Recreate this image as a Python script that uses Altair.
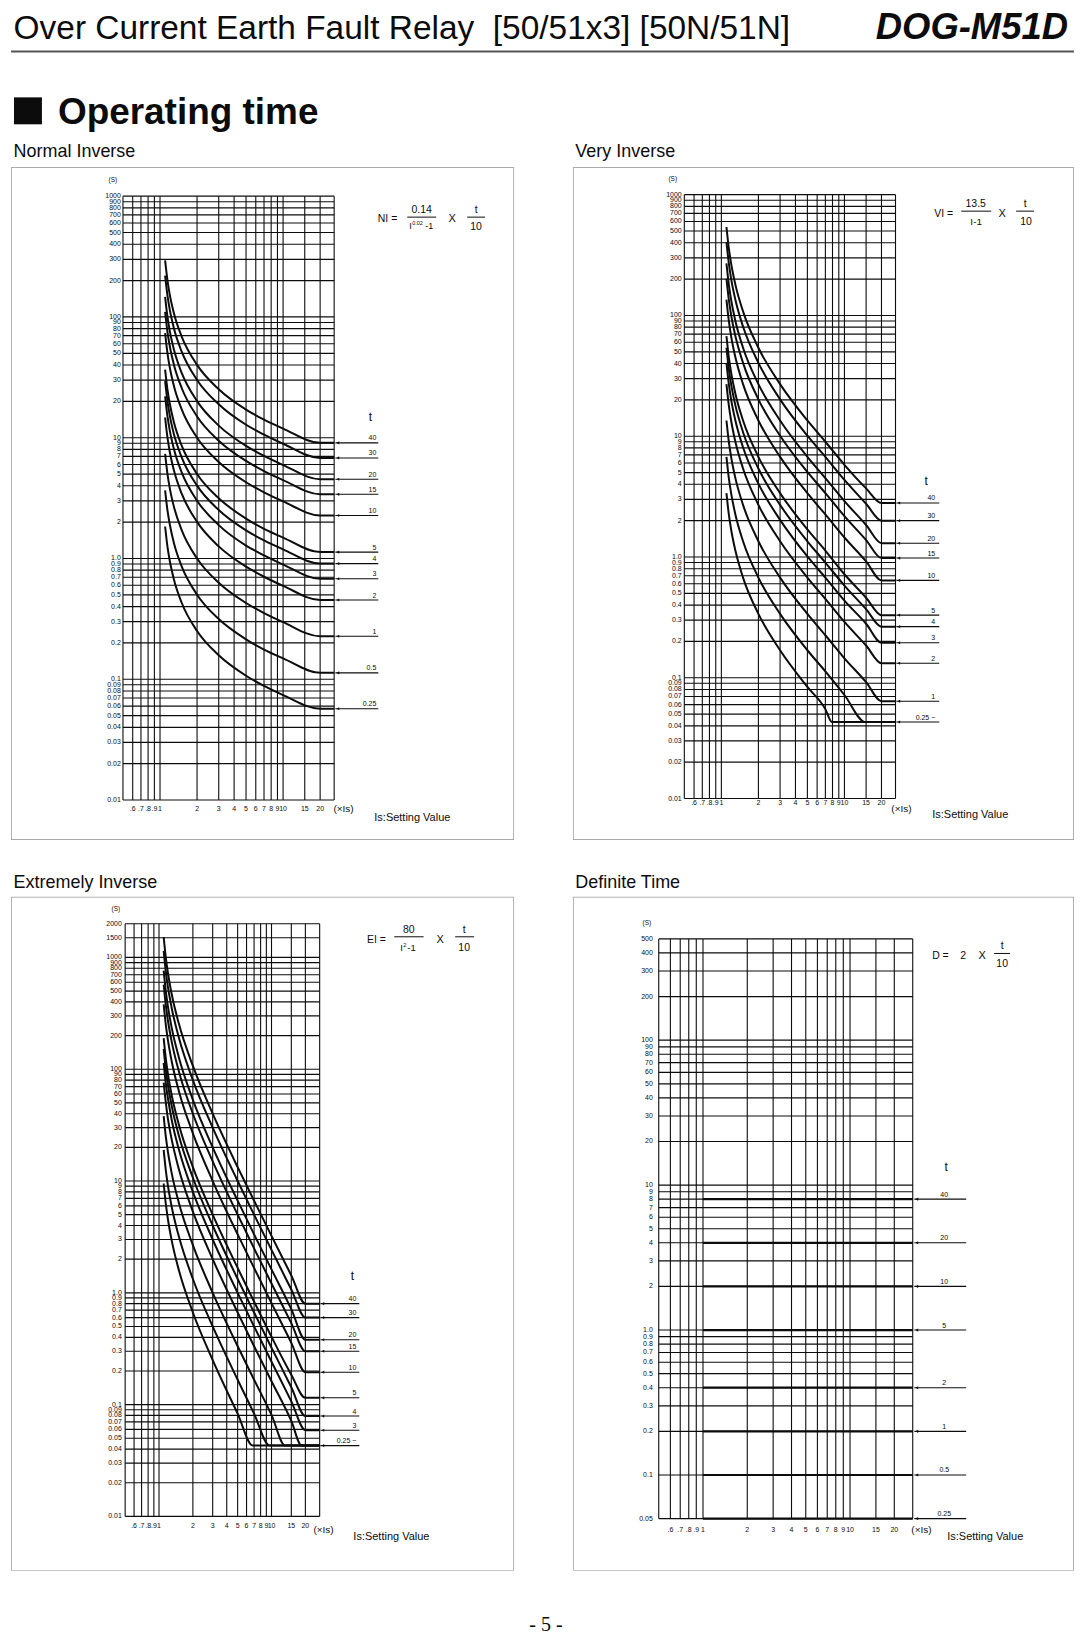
import altair as alt
import pandas as pd

FONT = "Liberation Sans"
SERIF = "Liberation Serif"
INK = "#0c0c0c"

# ---------------- shared axis values ----------------
X_GRID = [0.5, 0.6, 0.7, 0.8, 0.9, 1, 2, 3, 4, 5, 6, 7, 8, 9, 10, 15, 20]
X_TICKS = [0.6, 0.7, 0.8, 0.9, 1, 2, 3, 4, 5, 6, 7, 8, 9, 10, 15, 20]
X_LABELS = [".6", ".7", ".8", ".9", "1", "2", "3", "4", "5", "6", "7", "8", "9", "10", "15", "20"]

Y_VALS = [1000, 900, 800, 700, 600, 500, 400, 300, 200, 100, 90, 80, 70, 60, 50, 40, 30, 20,
          10, 9, 8, 7, 6, 5, 4, 3, 2, 1, 0.9, 0.8, 0.7, 0.6, 0.5, 0.4, 0.3, 0.2,
          0.1, 0.09, 0.08, 0.07, 0.06, 0.05, 0.04, 0.03, 0.02, 0.01]
Y_LABS = ["1000", "900", "800", "700", "600", "500", "400", "300", "200", "100", "90", "80", "70",
          "60", "50", "40", "30", "20", "10", "9", "8", "7", "6", "5", "4", "3", "2", "1.0", "0.9",
          "0.8", "0.7", "0.6", "0.5", "0.4", "0.3", "0.2", "0.1", "0.09", "0.08", "0.07", "0.06",
          "0.05", "0.04", "0.03", "0.02", "0.01"]
EI_Y_VALS = [2000, 1500, 1000, 900, 800, 700, 600, 500, 400, 300, 200, 100, 90, 80, 70, 60, 50, 40,
             30, 20, 10, 9, 8, 7, 6, 5, 4, 3, 2, 1, 0.9, 0.8, 0.7, 0.6, 0.5, 0.4, 0.3, 0.2,
             0.1, 0.09, 0.08, 0.07, 0.06, 0.05, 0.04, 0.03, 0.02, 0.01]
EI_Y_LABS = ["2000", "1500", "1000", "900", "800", "700", "600", "500", "400", "300", "200", "100",
             "90", "80", "70", "60", "50", "40", "30", "20", "10", "9", "8", "7", "6", "5", "4", "3",
             "2", "1.0", "0.9", "0.8", "0.7", "0.6", "0.5", "0.4", "0.3", "0.2", "0.1", "0.09",
             "0.08", "0.07", "0.06", "0.05", "0.04", "0.03", "0.02", "0.01"]
DT_Y_VALS = [500, 400, 300, 200, 100, 90, 80, 70, 60, 50, 40, 30, 20, 10, 9, 8, 7, 6, 5, 4, 3, 2,
             1, 0.9, 0.8, 0.7, 0.6, 0.5, 0.4, 0.3, 0.2, 0.1, 0.05]
DT_Y_LABS = ["500", "400", "300", "200", "100", "90", "80", "70", "60", "50", "40", "30", "20",
             "10", "9", "8", "7", "6", "5", "4", "3", "2", "1.0", "0.9", "0.8", "0.7", "0.6", "0.5",
             "0.4", "0.3", "0.2", "0.1", "0.05"]

# ---------------- Normal Inverse curves ----------------
NI_X = [1.1, 1.15, 1.2, 1.3, 1.5, 2, 3, 5, 7, 10, 20, 26]
NI_Y = {
    "40": [293.6, 200.0, 153.2, 106.4, 68.8, 40.1, 25.2, 17.1, 14.1, 11.9, 9.07, 9.07],
    "30": [220.2, 150.0, 114.9, 79.8, 51.6, 30.1, 18.9, 12.8, 10.6, 8.91, 6.80, 6.80],
    "20": [146.8, 100.0, 76.6, 53.2, 34.4, 20.1, 12.6, 8.56, 7.06, 5.94, 4.53, 4.53],
    "15": [110.1, 75.0, 57.5, 39.9, 25.8, 15.0, 9.45, 6.42, 5.29, 4.46, 3.40, 3.40],
    "10": [73.4, 50.0, 38.3, 26.6, 17.2, 10.0, 6.30, 4.28, 3.53, 2.97, 2.27, 2.27],
    "5": [36.7, 25.0, 19.2, 13.3, 8.60, 5.01, 3.15, 2.14, 1.76, 1.49, 1.13, 1.13],
    "4": [29.4, 20.0, 15.3, 10.6, 6.88, 4.01, 2.52, 1.71, 1.41, 1.19, 0.907, 0.907],
    "3": [22.0, 15.0, 11.5, 7.98, 5.16, 3.01, 1.89, 1.28, 1.06, 0.891, 0.680, 0.680],
    "2": [14.7, 10.0, 7.66, 5.32, 3.44, 2.01, 1.26, 0.856, 0.706, 0.594, 0.453, 0.453],
    "1": [7.34, 5.00, 3.83, 2.66, 1.72, 1.00, 0.630, 0.428, 0.353, 0.297, 0.227, 0.227],
    "0.5": [3.67, 2.50, 1.92, 1.33, 0.860, 0.501, 0.315, 0.214, 0.176, 0.149, 0.113, 0.113],
    "0.25": [1.84, 1.25, 0.958, 0.665, 0.430, 0.251, 0.158, 0.107, 0.088, 0.074, 0.057, 0.057],
}
NI_ARROW_T = ["40", "30", "20", "15", "10", "5", "4", "3", "2", "1", "0.5", "0.25"]
NI_ARROW_V = [9.07, 6.80, 4.53, 3.40, 2.27, 1.13, 0.907, 0.680, 0.453, 0.227, 0.113, 0.057]

# ---------------- Very Inverse curves ----------------
VI_XS = [1.1, 1.15, 1.2, 1.3, 1.5, 2, 3, 5, 7, 10, 15, 20, 26]
VI_X = {
    "40": VI_XS, "30": VI_XS, "20": VI_XS, "15": VI_XS, "10": VI_XS, "5": VI_XS,
    "4": VI_XS, "3": VI_XS, "2": VI_XS, "1": VI_XS,
    "0.5": [1.1, 1.15, 1.2, 1.3, 1.5, 2, 3, 5, 7, 10, 14.8, 26],
    "0.25": [1.1, 1.15, 1.2, 1.3, 1.5, 2, 3, 5, 7, 7.9, 26],
}
VI_Y = {
    "40": [540, 360, 270, 180, 108, 54, 27, 13.5, 9.0, 5.8, 3.7, 2.8, 2.8],
    "30": [405, 270, 202, 135, 81, 40.5, 20.2, 10.1, 6.75, 4.35, 2.76, 2.0, 2.0],
    "20": [270, 180, 135, 90, 54, 27, 13.5, 6.75, 4.5, 2.9, 1.84, 1.3, 1.3],
    "15": [202, 135, 101, 67.5, 40.5, 20.2, 10.1, 5.06, 3.38, 2.18, 1.38, 0.98, 0.98],
    "10": [135, 90, 67.5, 45, 27, 13.5, 6.75, 3.38, 2.25, 1.45, 0.92, 0.64, 0.64],
    "5": [67.5, 45, 33.8, 22.5, 13.5, 6.75, 3.38, 1.69, 1.13, 0.72, 0.46, 0.33, 0.33],
    "4": [54, 36, 27, 18, 10.8, 5.4, 2.7, 1.35, 0.9, 0.58, 0.37, 0.265, 0.265],
    "3": [40.5, 27, 20.2, 13.5, 8.1, 4.05, 2.03, 1.01, 0.675, 0.435, 0.28, 0.195, 0.195],
    "2": [27, 18, 13.5, 9.0, 5.4, 2.7, 1.35, 0.675, 0.45, 0.29, 0.185, 0.132, 0.132],
    "1": [13.5, 9.0, 6.75, 4.5, 2.7, 1.35, 0.675, 0.338, 0.225, 0.145, 0.092, 0.064, 0.064],
    "0.5": [6.75, 4.5, 3.38, 2.25, 1.35, 0.675, 0.338, 0.169, 0.113, 0.072, 0.043, 0.043],
    "0.25": [3.38, 2.25, 1.69, 1.13, 0.675, 0.338, 0.169, 0.084, 0.055, 0.043, 0.043],
}
VI_ARROW_T = ["40", "30", "20", "15", "10", "5", "4", "3", "2", "1", "0.25 ~"]
VI_ARROW_V = [2.8, 2.0, 1.3, 0.98, 0.64, 0.33, 0.265, 0.195, 0.132, 0.064, 0.043]

# ---------------- Extremely Inverse curves ----------------
EI_XS = [1.1, 1.15, 1.2, 1.3, 1.5, 2, 3, 5, 7, 10, 15, 20, 26.8]
EI_X = {
    "40": EI_XS, "30": EI_XS, "20": EI_XS, "15": EI_XS, "10": EI_XS, "5": EI_XS,
    "4": EI_XS, "3": EI_XS,
    "2": [1.1, 1.15, 1.2, 1.3, 1.5, 2, 3, 5, 7, 10, 15, 18.5, 26.8],
    "1": [1.1, 1.15, 1.2, 1.3, 1.5, 2, 3, 5, 7, 10, 13.2, 26.8],
    "0.5": [1.1, 1.15, 1.2, 1.3, 1.5, 2, 3, 5, 7, 9.6, 26.8],
    "0.25": [1.1, 1.15, 1.2, 1.3, 1.5, 2, 3, 5, 6.8, 26.8],
}
EI_Y = {
    "40": [1524, 992, 727, 464, 256, 107, 40, 13.3, 6.67, 3.23, 1.43, 0.80, 0.80],
    "30": [1143, 744, 545, 348, 192, 80, 30, 10.0, 5.0, 2.42, 1.07, 0.60, 0.60],
    "20": [762, 496, 364, 232, 128, 53.3, 20, 6.67, 3.33, 1.62, 0.714, 0.38, 0.38],
    "15": [571, 372, 273, 174, 96, 40, 15, 5.0, 2.5, 1.21, 0.536, 0.30, 0.30],
    "10": [381, 248, 182, 116, 64, 26.7, 10, 3.33, 1.67, 0.808, 0.357, 0.195, 0.195],
    "5": [190, 124, 91, 58, 32, 13.3, 5.0, 1.67, 0.833, 0.404, 0.185, 0.115, 0.115],
    "4": [152, 99, 73, 46.4, 25.6, 10.7, 4.0, 1.33, 0.667, 0.323, 0.143, 0.079, 0.079],
    "3": [114, 74, 55, 34.8, 19.2, 8.0, 3.0, 1.0, 0.50, 0.242, 0.107, 0.059, 0.059],
    "2": [76, 50, 36, 23.2, 12.8, 5.33, 2.0, 0.667, 0.333, 0.162, 0.0714, 0.043, 0.043],
    "1": [38, 24.8, 18.2, 11.6, 6.4, 2.67, 1.0, 0.333, 0.167, 0.081, 0.043, 0.043],
    "0.5": [19, 12.4, 9.1, 5.8, 3.2, 1.33, 0.5, 0.167, 0.083, 0.043, 0.043],
    "0.25": [9.5, 6.2, 4.55, 2.9, 1.6, 0.667, 0.25, 0.083, 0.043, 0.043],
}
EI_ARROW_T = ["40", "30", "20", "15", "10", "5", "4", "3", "0.25 ~"]
EI_ARROW_V = [0.80, 0.60, 0.38, 0.30, 0.195, 0.115, 0.079, 0.059, 0.043]

# ---------------- Definite Time lines ----------------
DT_T = ["40", "20", "10", "5", "2", "1", "0.5", "0.25"]
DT_V = [8, 4, 2, 1, 0.4, 0.2, 0.1, 0.05]
DT_X = [1, 26.7]

ONE = pd.DataFrame({"k": [0]})


def curves_frame(xmap, ymap):
    rows = []
    for t, ys in ymap.items():
        xs = xmap[t] if isinstance(xmap, dict) else xmap
        for i, (x, y) in enumerate(zip(xs, ys)):
            rows.append({"t": t, "x": x, "y": y, "i": i})
    return pd.DataFrame(rows)


def txt(s, x, y, size, align="center", baseline="middle", weight="normal", style="normal",
        font=FONT, color=INK, clip=False):
    return alt.Chart(ONE).mark_text(
        text=s, fontSize=size, align=align, baseline=baseline, fontWeight=weight,
        fontStyle=style, font=font, color=color, clip=clip
    ).encode(x=alt.value(x), y=alt.value(y))


def prule(x1, y1, x2, y2, w=1.0, color=INK):
    return alt.Chart(ONE).mark_rule(strokeWidth=w, color=color).encode(
        x=alt.value(x1), x2=alt.value(x2), y=alt.value(y1), y2=alt.value(y2))


def panel(cfg):
    W, H = cfg["W"], cfg["H"]
    px1, xdec, py1, ydec = cfg["cal"]
    xdom = [10 ** (-px1 / xdec), 10 ** ((W - px1) / xdec)]
    ydom = [10 ** ((py1 - H) / ydec), 10 ** (py1 / ydec)]
    xs = alt.Scale(type="log", domain=xdom, nice=False)
    ys = alt.Scale(type="log", domain=ydom, nice=False)

    def X(f):
        return alt.X(f"{f}:Q", scale=xs, axis=None)

    def Y(f):
        return alt.Y(f"{f}:Q", scale=ys, axis=None)

    L = []
    L.append(alt.Chart(ONE).mark_rect(filled=False, stroke="#8f8f95", strokeWidth=1.4,
                                      clip=True).encode(
        x=alt.value(0), x2=alt.value(W), y=alt.value(0), y2=alt.value(H)))
    hg = pd.DataFrame({"v": cfg["ygrid"], "a": X_GRID[0], "b": cfg["xr"]})
    L.append(alt.Chart(hg).mark_rule(color=INK, strokeWidth=1.15).encode(
        x=X("a"), x2="b", y=Y("v")))
    vg = pd.DataFrame({"v": X_GRID + [cfg["xr"]], "a": cfg["ybot"], "b": cfg["ytop"]})
    L.append(alt.Chart(vg).mark_rule(color=INK, strokeWidth=1.1).encode(
        x=X("v"), y=Y("a"), y2="b"))
    L.append(alt.Chart(cfg["curves"]).mark_line(
        color=INK, strokeWidth=cfg.get("cw", 2.0), interpolate=cfg.get("interp", "monotone")
    ).encode(x=X("x"), y=Y("y"), detail="t:N", order="i:Q"))

    a0, a1, lx, lalign = cfg["arrow"]
    ar = pd.DataFrame({"v": cfg["arrow_v"], "label": cfg["arrow_l"]})
    L.append(alt.Chart(ar).mark_rule(color=INK, strokeWidth=1.1).encode(
        x=alt.value(a0), x2=alt.value(a1), y=Y("v")))
    L.append(alt.Chart(ar).mark_point(shape="triangle-left", filled=True, size=10, color=INK,
                                      opacity=1).encode(x=alt.value(a0 + 2.5), y=Y("v")))
    L.append(alt.Chart(ar).mark_text(fontSize=7, font=FONT, color=INK, align=lalign,
                                     baseline="alphabetic", dy=-2.5).encode(
        x=alt.value(lx), y=Y("v"), text="label:N"))

    yt = pd.DataFrame({"v": cfg["ygrid"], "label": cfg["ylabs"]})
    L.append(alt.Chart(yt).mark_text(fontSize=7, font=FONT, color=INK, align="right",
                                     baseline="middle").encode(
        x=alt.value(cfg["ylx"]), y=Y("v"), text="label:N"))
    xt = pd.DataFrame({"v": X_TICKS, "label": X_LABELS})
    L.append(alt.Chart(xt).mark_text(fontSize=7, font=FONT, color=INK, align="center",
                                     baseline="middle").encode(
        x=X("v"), y=alt.value(cfg["xly"]), text="label:N"))

    for t in cfg["texts"]:
        L.append(txt(*t))
    for b in cfg["bars"]:
        L.append(prule(b[0], b[2], b[1], b[2], 1.0))
    return alt.layer(*L).properties(width=W, height=H)


def dt_frame():
    rows = []
    for t, v in zip(DT_T, DT_V):
        for i, x in enumerate(DT_X):
            rows.append({"t": t, "x": x, "y": v, "i": i})
    return pd.DataFrame(rows)


NI_CFG = dict(
    W=504, H=674, cal=(149.3, 123.3, 392.0, 121.0), xr=26, ytop=1000, ybot=0.01,
    ygrid=Y_VALS, ylabs=Y_LABS, ylx=110, xly=643,
    curves=curves_frame(NI_X, NI_Y),
    arrow=(325, 368, 366, "right"), arrow_v=NI_ARROW_V, arrow_l=NI_ARROW_T,
    texts=[
        ("(S)", 102, 13, 6.5),
        ("(\u00d7Is)", 323, 643, 10, "left"),
        ("Is:Setting Value", 364, 652, 11, "left"),
        ("t", 360, 250, 12),
        ("NI =", 387, 52, 10.5, "right"),
        ("0.14", 411.5, 43, 10.5),
        ("I", 399, 59, 9, "left"),
        ("0.02", 402, 56, 5.5, "left"),
        ("-1", 415, 59, 9, "left"),
        ("X", 442, 52, 11),
        ("t", 466, 43, 10.5),
        ("10", 466, 60, 10.5),
    ],
    bars=[(397, 426, 50), (457, 475, 50)],
)

VI_CFG = dict(
    W=502, H=674, cal=(148.7, 123.3, 390.5, 121.0), xr=26, ytop=1000, ybot=0.01,
    ygrid=Y_VALS, ylabs=Y_LABS, ylx=109, xly=637,
    curves=curves_frame(VI_X, VI_Y),
    arrow=(324, 367, 363, "right"), arrow_v=VI_ARROW_V, arrow_l=VI_ARROW_T,
    texts=[
        ("(S)", 100, 12, 6.5),
        ("(\u00d7Is)", 319, 643, 10, "left"),
        ("Is:Setting Value", 360, 649, 11, "left"),
        ("t", 354, 314, 12),
        ("VI =", 381, 47, 10.5, "right"),
        ("13.5", 403.5, 37, 10.5),
        ("I-1", 404, 55, 10),
        ("X", 430, 47, 11),
        ("t", 453, 37, 10.5),
        ("10", 454, 55, 10.5),
    ],
    bars=[(389, 419, 44), (444, 462, 44)],
)

EI_CFG = dict(
    W=504, H=675, cal=(148.3, 112.7, 396.7, 112.0), xr=26.8, ytop=2000, ybot=0.01,
    ygrid=EI_Y_VALS, ylabs=EI_Y_LABS, ylx=111, xly=630,
    curves=curves_frame(EI_X, EI_Y),
    arrow=(310, 349, 346, "right"), arrow_v=EI_ARROW_V, arrow_l=EI_ARROW_T,
    texts=[
        ("(S)", 105, 12, 6.5),
        ("(\u00d7Is)", 303, 634, 10, "left"),
        ("Is:Setting Value", 343, 641, 11, "left"),
        ("t", 342, 380, 12),
        ("EI =", 375.7, 43, 10.5, "right"),
        ("80", 398.5, 33, 10.5),
        ("I", 390, 51.4, 9.5, "left"),
        ("2", 393, 48, 5.5, "left"),
        ("-1", 397, 51.4, 9.5, "left"),
        ("X", 430, 43, 11),
        ("t", 454, 33, 10.5),
        ("10", 454, 51, 10.5),
    ],
    bars=[(384, 413.4, 40), (445, 464, 40)],
)

DT_CFG = dict(
    W=502, H=675, cal=(130.3, 147.3, 434.0, 145.2), xr=26.7, ytop=500, ybot=0.05,
    ygrid=DT_Y_VALS, ylabs=DT_Y_LABS, ylx=80, xly=634,
    curves=dt_frame(), interp="linear", cw=2.2,
    arrow=(342, 394, 372, "center"), arrow_v=DT_V, arrow_l=DT_T,
    texts=[
        ("(S)", 74, 26, 6.5),
        ("(\u00d7Is)", 339, 634, 10, "left"),
        ("Is:Setting Value", 375, 641, 11, "left"),
        ("t", 374, 271, 12),
        ("D =", 376.5, 59, 10.5, "right"),
        ("2", 391, 59, 10.5),
        ("X", 410, 59, 11),
        ("t", 430, 49, 10.5),
        ("10", 430, 67, 10.5),
    ],
    bars=[(422, 438, 56.7)],
)

header = alt.layer(
    txt("Over Current Earth Fault Relay \u00a0[50/51x3] [50N/51N]", 2.6, 30, 33.5, "left",
        "alphabetic"),
    txt("DOG-M51D", 1059, 30, 36.5, "right", "alphabetic", "bold", "italic"),
    prule(0, 42, 1065, 42, 2.0, "#555555"),
    alt.Chart(ONE).mark_rect(color=INK).encode(
        x=alt.value(3), x2=alt.value(31), y=alt.value(88), y2=alt.value(115)),
    txt("Operating time", 47, 115, 37, "left", "alphabetic", "bold"),
    txt("Normal Inverse", 2.6, 148, 18, "left", "alphabetic"),
    txt("Very Inverse", 565.4, 148, 18, "left", "alphabetic"),
).properties(width=1065, height=158)

gap = alt.layer(
    txt("Extremely Inverse", 2.6, 48, 18, "left", "alphabetic"),
    txt("Definite Time", 565.4, 48, 18, "left", "alphabetic"),
).properties(width=1065, height=57)

footer = alt.layer(
    txt("- 5 -", 536, 61, 20, "center", "alphabetic", font=SERIF, clip=True),
).properties(width=1065, height=64)

row1 = alt.hconcat(panel(NI_CFG), panel(VI_CFG), spacing=59)
row2 = alt.hconcat(panel(EI_CFG), panel(DT_CFG), spacing=59)

chart = alt.vconcat(header, row1, gap, row2, footer, spacing=0).properties(
    padding={"left": 2, "top": 0, "right": 0, "bottom": 0}, background="white"
).configure_view(stroke=None)

chart.save("out.html", embed_options={"renderer": "svg", "actions": False})
